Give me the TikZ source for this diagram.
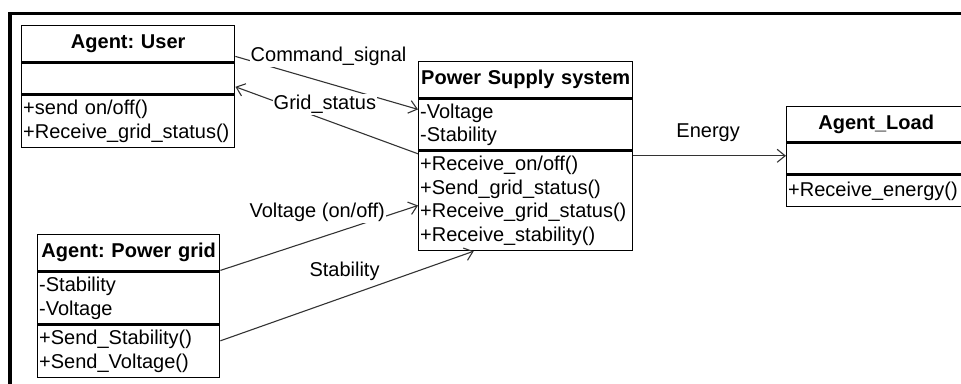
\documentclass[tikz,border=0pt]{standalone}
\usepackage{fontspec}
\setmainfont{Liberation Sans}
\usetikzlibrary{positioning,arrows.meta}
\frenchspacing

\begin{document}
\begin{tikzpicture}[x=1pt, y=-1pt,
    font=\fontsize{20}{23.5}\selectfont,
    classhead/.style={draw, line width=1.4pt, fill=white, text width=#1, align=center,
      inner xsep=1.5pt, inner ysep=0pt, font=\fontsize{20}{23.5}\selectfont\bfseries},
    classpart/.style={draw, line width=1.4pt, fill=white, text width=#1, align=left,
      inner xsep=1.5pt, inner ysep=0pt},
    conn/.style={draw=black!80, line width=1.1pt, -{Straight Barb[length=8pt,width=13pt]}},
    lab/.style={fill=white, inner sep=1pt}]
    \useasboundingbox (0,0) rectangle (961,383);
    \clip (0,0) rectangle (961,383);
    \draw[line width=3.3pt] (10,13.3) rectangle (990,400);

    % classes
    \node[classhead=210pt, minimum height=36pt, anchor=north west] (user) at (21,25) {Agent: User};
    \node[classpart=210pt, minimum height=31pt, below=0pt of user] (user-a) {};
    \node[classpart=210pt, minimum height=52pt, below=0pt of user-a] (user-o) {+send on/off()\\+Receive\_grid\_status()};

    \node[classhead=211pt, minimum height=36pt, anchor=north west] (pss) at (418,61) {Power Supply system};
    \node[classpart=211pt, minimum height=51pt, below=0pt of pss] (pss-a) {-Voltage\\-Stability};
    \node[classpart=211pt, minimum height=99pt, below=0pt of pss-a] (pss-o) {+Receive\_on/off()\\+Send\_grid\_status()\\+Receive\_grid\_status()\\+Receive\_stability()};

    \node[classhead=176pt, minimum height=35pt, anchor=north west] (load) at (786,106) {Agent\_Load};
    \node[classpart=176pt, minimum height=31pt, below=0pt of load] (load-a) {};
    \node[classpart=176pt, minimum height=31pt, below=0pt of load-a] (load-o) {+Receive\_energy()};

    \node[classhead=179pt, minimum height=36pt, anchor=north west] (grid) at (37,234) {Agent: Power grid};
    \node[classpart=179pt, minimum height=52pt, below=0pt of grid] (grid-a) {-Stability\\-Voltage};
    \node[classpart=179pt, minimum height=52pt, below=0pt of grid-a] (grid-o) {+Send\_Stability()\\+Send\_Voltage()};

    % messages
    \draw[conn] ([yshift=6pt]user.south east) -- node[lab, pos=.51, yshift=27pt] {Command\_signal} ([yshift=-11pt]pss-a.north west);
    \draw[conn] ([yshift=-3pt]pss-o.north west) -- node[lab, pos=.51, yshift=15pt] {Grid\_status} ([yshift=8pt]user-a.south east);
    \draw[conn] ([yshift=1pt]grid.south east) -- node[lab, pos=.49, yshift=26pt] {Voltage (on/off)} ([yshift=-4.5pt]pss-o.west);
    \draw[conn] ([yshift=-16pt]grid-o.north east) -- node[lab, pos=.49, yshift=26pt] {Stability} ([xshift=-52pt]pss-o.south);
    \coordinate (e) at ([yshift=-5pt]pss-o.north east);
    \draw[conn] (e) -- node[lab, pos=.49, yshift=23pt] {Energy} (e -| load-a.west);
\end{tikzpicture}
\end{document}
